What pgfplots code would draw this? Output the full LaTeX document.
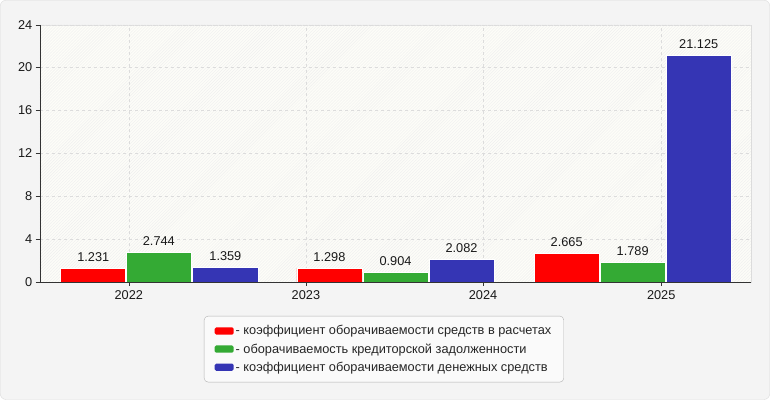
\documentclass[border=0pt]{standalone}
\usepackage{pgfplots}
\pgfplotsset{compat=1.18}
\usepackage{fontspec}
\setmainfont{Liberation Sans}
\usetikzlibrary{patterns}
\definecolor{cred}{HTML}{FF0000}
\definecolor{cgreen}{HTML}{34AA34}
\definecolor{cblue}{HTML}{3535B4}
\definecolor{bgout}{HTML}{F4F4F4}
\definecolor{bgplot}{HTML}{FDFDF8}
\definecolor{gridc}{HTML}{DCDCDC}
\definecolor{axc}{HTML}{333333}
\begin{document}
\begin{tikzpicture}
\fill[bgout, draw=gridc, rounded corners=6bp] (0.5bp,0.5bp) rectangle (769.5bp,399.5bp);
\begin{axis}[
  at={(40bp,118bp)}, anchor=south west,
  width=710.7bp, height=257bp, scale only axis,
  xmin=40, xmax=750.7, ymin=0, ymax=24,
  ytick={0,4,...,24},
  xtick={129,306,483,661},
  xticklabels={2022,2023,2024,2025},
  axis lines*=left,
  axis line style={-, draw=axc},
  tick style={draw=axc},
  tick align=outside,
  major tick length=4bp,
  axis background/.style={fill=bgplot, draw=gridc, postaction={pattern=north east lines, pattern color=gridc!45}},
  grid=major,
  grid style={dashed, gridc},
  ybar, bar shift=0pt, bar width=65,
  every axis plot/.append style={draw=white, line width=0.8bp},
  nodes near coords,
  nodes near coords style={font=\fontsize{12.8}{15}\selectfont, text=black!90, /pgf/number format/fixed, /pgf/number format/precision=3, /pgf/number format/fixed zerofill, /pgf/number format/assume math mode=true, yshift=3bp},
  ticklabel style={font=\fontsize{12.8}{15}\selectfont, text=black!90},
  /pgf/number format/assume math mode=true,
  xticklabel style={yshift=-1bp},
  legend style={at={(0.484,-0.132)}, anchor=north, draw=gray!60, fill=white!98!black, rounded corners=4bp,
    font=\fontsize{12.8}{15}\selectfont, text=black!85, row sep=3.2bp, inner xsep=10.5bp, inner ysep=7.5bp, legend cell align=left,
    /tikz/every odd column/.append style={column sep=0bp}},
  legend image code/.code={\fill[#1, draw=none, rounded corners=1.5bp] (0bp,-3.6bp) rectangle (19bp,3.6bp);},
]
\addplot[fill=cred] coordinates {(93.5,1.231) (329.5,1.298) (566.5,2.665)};
\addplot[fill=cgreen] coordinates {(159,2.744) (395.5,0.904) (632.5,1.789)};
\addplot[fill=cblue] coordinates {(225.5,1.359) (461.5,2.082) (698.5,21.125)};
\legend{- коэффициент оборачиваемости средств в расчетах,- оборачиваемость кредиторской задолженности,- коэффициент оборачиваемости денежных средств}
\end{axis}
\end{tikzpicture}
\end{document}
